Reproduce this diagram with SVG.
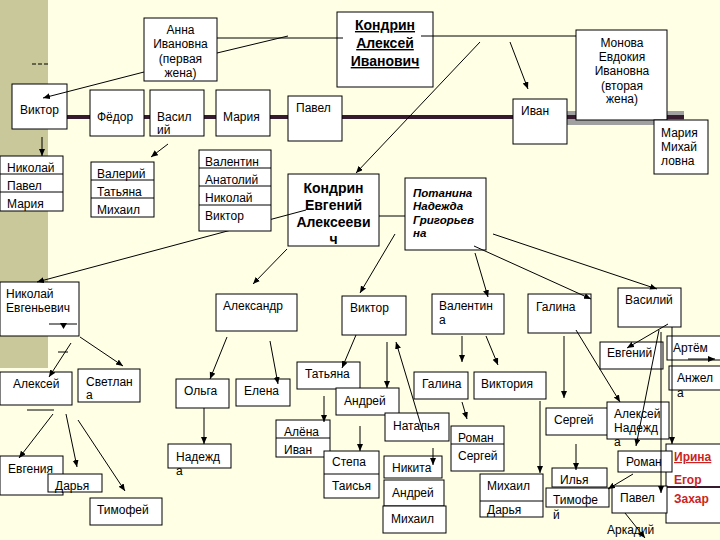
<svg xmlns="http://www.w3.org/2000/svg" width="720" height="540" viewBox="0 0 720 540">
<style>
.box{fill:#fff;stroke:#000;stroke-width:1}
.t{font-family:"Liberation Sans",Arial,sans-serif;font-size:12px;fill:#000}
.m{text-anchor:middle}
.hb{font-weight:bold;font-size:14px;text-decoration:underline}
.b{font-weight:bold;font-size:14px}
.bi{font-weight:bold;font-style:italic;font-size:11.5px}
.r{font-weight:bold;fill:#cc2222}
.c{stroke:#000;stroke-width:1;fill:none}
.a{marker-end:url(#ah)}
</style>
<defs>
<marker id="ah" markerUnits="userSpaceOnUse" markerWidth="8" markerHeight="7" refX="7" refY="3" orient="auto">
<path d="M0,0 L7,3 L0,6 z" fill="#000"/>
</marker>
</defs>
<rect width="720" height="540" fill="#ffffe6"/>
<rect x="0" y="0" width="48" height="368" fill="#c9c89b"/>
<line x1="32" y1="64" x2="48" y2="64" stroke="#000" stroke-width="1" stroke-dasharray="4,2"/>
<rect x="567" y="111" width="117" height="14" fill="#a0a0a0"/>
<line x1="67" y1="117" x2="684" y2="117" stroke="#361a2e" stroke-width="4"/>

<g id="anna"><rect class="box" x="144" y="18" width="73" height="63"/>
<text class="t m" x="180.5" y="34">Анна</text><text class="t m" x="180.5" y="48">Ивановна</text><text class="t m" x="180.5" y="63">(первая</text><text class="t m" x="180.5" y="77">жена)</text></g>
<g id="kondrin-aleksey"><rect class="box" x="337" y="12" width="96" height="75"/>
<text class="t m hb" x="385" y="30">Кондрин</text><text class="t m hb" x="385" y="48">Алексей</text><text class="t m hb" x="385" y="66">Иванович</text></g>
<g id="monova"><rect class="box" x="576" y="30" width="91" height="90"/>
<text class="t m" x="622" y="47">Монова</text><text class="t m" x="622" y="61">Евдокия</text><text class="t m" x="622" y="75">Ивановна</text><text class="t m" x="622" y="90">(вторая</text><text class="t m" x="622" y="103">жена)</text></g>
<g id="viktor1"><rect class="box" x="12" y="84" width="55" height="45"/><text class="t" x="20" y="114">Виктор</text></g>
<g id="fedor"><rect class="box" x="90" y="90" width="54" height="46"/><text class="t" x="97" y="121">Фёдор</text></g>
<g id="vasiliy1"><rect class="box" x="150" y="90" width="54" height="46"/><text class="t" x="157" y="121">Васил</text><text class="t" x="157" y="134">ий</text></g>
<g id="mariya1"><rect class="box" x="216" y="90" width="54" height="46"/><text class="t" x="223" y="121">Мария</text></g>
<g id="pavel1"><rect class="box" x="288" y="96" width="54" height="45"/><text class="t" x="296" y="112">Павел</text></g>
<g id="ivan"><rect class="box" x="513" y="99" width="54" height="45"/><text class="t" x="521" y="115">Иван</text></g>
<g id="mariya-m"><rect class="box" x="654" y="120" width="54" height="54"/><text class="t" x="661" y="137">Мария</text><text class="t" x="661" y="151">Михай</text><text class="t" x="661" y="165">ловна</text></g>
<g id="list-nikolay"><rect class="box" x="0" y="156" width="63" height="55"/><line class="c" x1="0" y1="174" x2="63" y2="174"/><line class="c" x1="0" y1="192" x2="63" y2="192"/>
<text class="t" x="7" y="172">Николай</text><text class="t" x="7" y="190">Павел</text><text class="t" x="7" y="208">Мария</text></g>
<g id="list-valeriy"><rect class="box" x="91" y="162" width="63" height="55"/><line class="c" x1="91" y1="180" x2="154" y2="180"/><line class="c" x1="91" y1="198" x2="154" y2="198"/>
<text class="t" x="97" y="178">Валерий</text><text class="t" x="97" y="196">Татьяна</text><text class="t" x="97" y="214">Михаил</text></g>
<g id="kondrin-evgeniy"><rect class="box" x="288" y="174" width="91" height="72"/>
<text class="t m b" x="333.5" y="193">Кондрин</text><text class="t m b" x="333.5" y="210">Евгений</text><text class="t m b" x="333.5" y="227" textLength="74" lengthAdjust="spacingAndGlyphs">Алексееви</text><text class="t m b" x="333.5" y="244">ч</text></g>
<g id="potanina"><rect class="box" x="405" y="178" width="81" height="72"/>
<text class="t bi" x="413" y="197">Потанина</text><text class="t bi" x="413" y="210">Надежда</text><text class="t bi" x="413" y="224">Григорьев</text><text class="t bi" x="413" y="237">на</text></g>
<g id="nikolay-e"><rect class="box" x="0" y="282" width="79" height="54"/><text class="t" x="6" y="298">Николай</text><text class="t" x="6" y="312">Евгеньевич</text>
<line class="c" x1="49" y1="324" x2="77" y2="324"/><path d="M60,323 L67,323 L63.5,329 z" fill="#000"/></g>
<g id="aleksandr"><rect class="box" x="216" y="294" width="81" height="37"/><text class="t" x="223" y="310">Александр</text></g>
<g id="viktor2"><rect class="box" x="342" y="296" width="64" height="39"/><text class="t" x="350" y="312">Виктор</text></g>
<g id="valentina"><rect class="box" x="432" y="294" width="72" height="40"/><text class="t" x="439" y="310">Валентин</text><text class="t" x="439" y="324">а</text></g>
<g id="galina1"><rect class="box" x="528" y="294" width="63" height="39"/><text class="t" x="536" y="311">Галина</text></g>
<g id="vasiliy2"><rect class="box" x="618" y="288" width="63" height="39"/><text class="t" x="625" y="304">Василий</text></g>
<g id="aleksey1"><rect class="box" x="0" y="372" width="72" height="33"/><text class="t" x="13" y="388">Алексей</text></g>
<g id="svetlana"><rect class="box" x="78" y="369" width="62" height="33"/><text class="t" x="86" y="386">Светлан</text><text class="t" x="86" y="399">а</text></g>
<g id="evgeniya"><rect class="box" x="0" y="456" width="63" height="39"/><text class="t" x="8" y="473">Евгения</text></g>
<g id="darya1"><rect class="box" x="48" y="474" width="54" height="18"/><text class="t" x="55" y="490">Дарья</text></g>
<g id="timofey1"><rect class="box" x="90" y="498" width="72" height="27"/><text class="t" x="97" y="514">Тимофей</text></g>
<g id="olga"><rect class="box" x="176" y="379" width="53" height="29"/><text class="t" x="184" y="395">Ольга</text></g>
<g id="elena"><rect class="box" x="236" y="379" width="54" height="27"/><text class="t" x="244" y="395">Елена</text></g>
<g id="nadezhda1"><rect class="box" x="168" y="444" width="63" height="24"/><text class="t" x="176" y="461">Надежд</text><text class="t" x="176" y="475">а</text></g>
<g id="tatyana"><rect class="box" x="297" y="362" width="63" height="27"/><text class="t" x="305" y="378">Татьяна</text></g>
<g id="andrey1"><rect class="box" x="336" y="388" width="63" height="27"/><text class="t" x="344" y="405">Андрей</text></g>
<g id="natalya"><rect class="box" x="385" y="413" width="64" height="28"/><text class="t" x="393" y="430">Наталья</text></g>
<g id="list-alena"><rect class="box" x="276" y="420" width="54" height="37"/><line class="c" x1="276" y1="438" x2="330" y2="438"/><text class="t" x="284" y="436">Алёна</text><text class="t" x="284" y="454">Иван</text></g>
<g id="list-stepa"><rect class="box" x="324" y="451" width="55" height="47"/><line class="c" x1="324" y1="474" x2="379" y2="474"/><text class="t" x="332" y="466">Степа</text><text class="t" x="332" y="490">Таисья</text></g>
<g id="nikita"><rect class="box" x="384" y="456" width="58" height="22"/><text class="t" x="392" y="472">Никита</text></g>
<g id="andrey2"><rect class="box" x="384" y="480" width="60" height="26"/><text class="t" x="392" y="497">Андрей</text></g>
<g id="mikhail1"><rect class="box" x="383" y="506" width="63" height="27"/><text class="t" x="391" y="523">Михаил</text></g>
<g id="galina2"><rect class="box" x="414" y="372" width="54" height="27"/><text class="t" x="422" y="388">Галина</text></g>
<g id="viktoriya"><rect class="box" x="474" y="372" width="72" height="27"/><text class="t" x="481" y="388">Виктория</text></g>
<g id="list-roman"><rect class="box" x="451" y="426" width="53" height="45"/><line class="c" x1="451" y1="444" x2="504" y2="444"/><text class="t" x="458" y="442">Роман</text><text class="t" x="458" y="460">Сергей</text></g>
<g id="list-mikhail"><rect class="box" x="480" y="474" width="63" height="43"/><line class="c" x1="480" y1="501" x2="543" y2="501"/><text class="t" x="487" y="490">Михаил</text><text class="t" x="487" y="514">Дарья</text></g>
<g id="sergey"><rect class="box" x="546" y="408" width="63" height="27"/><text class="t" x="554" y="424">Сергей</text></g>
<g id="aleksey-nadezhda"><rect class="box" x="607" y="402" width="62" height="37"/><text class="t" x="614" y="418">Алексей</text><text class="t" x="614" y="432">Надежд</text><text class="t" x="614" y="446">а</text></g>
<g id="ilya"><rect class="box" x="552" y="468" width="55" height="19"/><text class="t" x="560" y="484">Илья</text></g>
<g id="timofey2"><rect class="box" x="546" y="488" width="63" height="19"/><text class="t" x="553" y="504">Тимофе</text><text class="t" x="553" y="519">й</text></g>
<g id="evgeniy2"><rect class="box" x="600" y="342" width="63" height="27"/><text class="t" x="607" y="357">Евгений</text></g>
<g id="artem"><rect class="box" x="667" y="336" width="55" height="24"/><text class="t" x="673" y="352">Артём</text></g>
<g id="anzhela"><rect class="box" x="669" y="366" width="53" height="24"/><text class="t" x="677" y="382">Анжел</text><text class="t" x="677" y="397">а</text></g>
<g id="irina"><rect class="box" x="666" y="444" width="56" height="79"/><line x1="667" y1="487" x2="720" y2="487" stroke="#361a2e" stroke-width="2"/>
<text class="t r" x="674" y="461" text-decoration="underline">Ирина</text><text class="t r" x="674" y="484">Егор</text><text class="t r" x="674" y="503">Захар</text></g>
<g id="roman2"><rect class="box" x="618" y="451" width="54" height="21"/><text class="t" x="626" y="466">Роман</text></g>
<g id="pavel2"><rect class="box" x="612" y="486" width="55" height="27"/><text class="t" x="620" y="502">Павел</text></g>
<g id="arkadiy"><text class="t" x="607" y="534">Аркадий</text></g>

<g id="connectors">
<line class="c a" x1="144" y1="72" x2="43" y2="98"/>
<line class="c" x1="217" y1="38" x2="343" y2="38"/>
<line class="c" x1="217" y1="53" x2="288" y2="36"/>
<line class="c" x1="421" y1="36" x2="576" y2="36"/>
<line class="c a" x1="510" y1="42" x2="528" y2="89"/>
<line class="c a" x1="480" y1="42" x2="356" y2="173"/>
<line class="c a" x1="42" y1="137" x2="42" y2="156"/>
<line class="c a" x1="168" y1="144" x2="151" y2="157"/>
<line class="c" x1="379" y1="216" x2="405" y2="216"/>
<line class="c a" x1="306" y1="210" x2="37" y2="282"/>
<line class="c a" x1="287" y1="249" x2="253" y2="284"/>
<line class="c a" x1="395" y1="234" x2="360" y2="293"/>
<line class="c a" x1="475" y1="253" x2="488" y2="297"/>
<line class="c a" x1="474" y1="246" x2="591" y2="299"/>
<line class="c a" x1="493" y1="234" x2="657" y2="289"/>
<line class="c a" x1="71" y1="343" x2="49" y2="377"/>
<line class="c" x1="58" y1="352" x2="68" y2="352"/>
<line class="c a" x1="80" y1="337" x2="123" y2="366"/>
<line class="c" x1="27" y1="410" x2="54" y2="410"/>
<line class="c a" x1="53" y1="414" x2="19" y2="458"/>
<line class="c a" x1="66" y1="414" x2="77" y2="467"/>
<line class="c a" x1="78" y1="420" x2="125" y2="491"/>
<line class="c a" x1="227" y1="337" x2="210" y2="379"/>
<line class="c a" x1="270" y1="341" x2="278" y2="384"/>
<line class="c a" x1="204" y1="408" x2="204" y2="444"/>
<line class="c a" x1="356" y1="335" x2="342" y2="368"/>
<line class="c a" x1="387" y1="342" x2="387" y2="388"/>
<line class="c a" x1="423" y1="432" x2="396" y2="342"/>
<line class="c a" x1="324" y1="396" x2="324" y2="422"/>
<line class="c a" x1="360" y1="426" x2="360" y2="451"/>
<line class="c a" x1="433" y1="448" x2="433" y2="465"/>
<line class="c a" x1="462" y1="336" x2="462" y2="362"/>
<line class="c a" x1="486" y1="336" x2="498" y2="365"/>
<line class="c a" x1="462" y1="402" x2="467" y2="419"/>
<line class="c a" x1="540" y1="401" x2="540" y2="473"/>
<line class="c a" x1="564" y1="336" x2="564" y2="398"/>
<line class="c a" x1="576" y1="330" x2="620" y2="402"/>
<line class="c a" x1="576" y1="444" x2="576" y2="470"/>
<line class="c a" x1="668" y1="324" x2="627" y2="348"/>
<line class="c a" x1="659" y1="330" x2="636" y2="446"/>
<line class="c a" x1="661" y1="332" x2="661" y2="493"/>
<line class="c a" x1="672" y1="327" x2="672" y2="444"/>
<line class="c a" x1="688" y1="359" x2="715" y2="359"/>
<line class="c a" x1="633" y1="474" x2="608" y2="489"/>
<line class="c a" x1="625" y1="513" x2="645" y2="538"/>
</g>

<g id="list-valentin"><rect class="box" x="199" y="150" width="72" height="81"/><line class="c" x1="199" y1="168" x2="271" y2="168"/><line class="c" x1="199" y1="186" x2="271" y2="186"/><line class="c" x1="199" y1="205" x2="271" y2="205"/>
<text class="t" x="205" y="166">Валентин</text><text class="t" x="205" y="184">Анатолий</text><text class="t" x="205" y="202">Николай</text><text class="t" x="205" y="220">Виктор</text></g>
</svg>
